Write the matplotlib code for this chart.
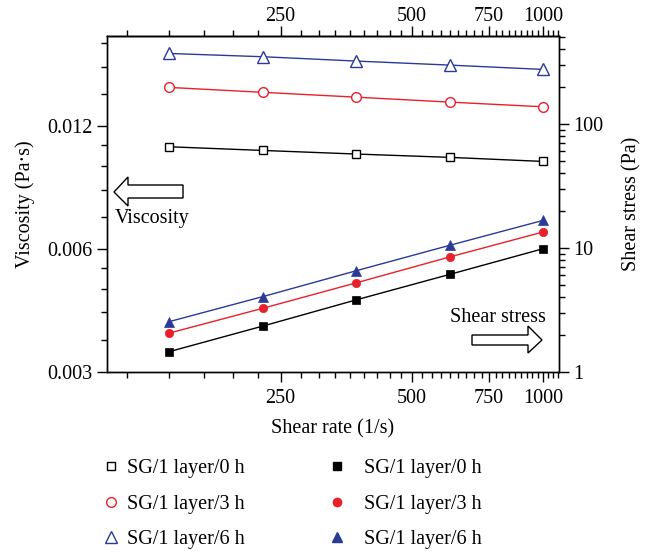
import numpy as np
import matplotlib
matplotlib.use("Agg")
import matplotlib.pyplot as plt
from matplotlib.patches import Polygon
from matplotlib.ticker import FixedLocator, NullFormatter, FixedFormatter

plt.rcParams['font.family'] = ['Liberation Serif', 'DejaVu Serif']

# data
shear_rate = [139, 228, 373, 610, 1000]
visc_0h = [0.0107, 0.01048, 0.01027, 0.01008, 0.00985]
visc_3h = [0.01496, 0.01455, 0.01416, 0.01377, 0.01341]
visc_6h = [0.01812, 0.01779, 0.01736, 0.01697, 0.01656]
stress_0h = [1.46, 2.35, 3.82, 6.12, 9.87]
stress_3h = [2.06, 3.27, 5.24, 8.46, 13.47]
stress_6h = [2.55, 4.06, 6.56, 10.5, 16.7]
labels = ['SG/1 layer/0 h', 'SG/1 layer/3 h', 'SG/1 layer/6 h']
colors = ['black', '#e8202a', '#2b3a97']

x_ticks = [250, 500, 750, 1000]
visc_ticks = [0.003, 0.006, 0.012]
stress_ticks = [1, 10, 100]

W, H = 649, 554
fig = plt.figure(figsize=(W / 100, H / 100), dpi=100)
L, R, T, B = 107, 559, 36, 372
ax = fig.add_axes([L / W, 1 - B / H, (R - L) / W, (B - T) / H])
ax2 = ax.twinx()

fs = 14.5
markers = ['s', 'o', '^']
open_ms = [6, 7, 8]
fill_ms = [5.5, 6, 7]

# viscosity, open markers, left axis
for v, c, m, ms in zip([visc_0h, visc_3h, visc_6h], colors, markers, open_ms):
    ax.plot(shear_rate, v, color=c, lw=1, marker=m, ms=ms, mfc='white', mec=c, mew=1)
# shear stress, filled markers, right axis
for s, c, m, ms in zip([stress_0h, stress_3h, stress_6h], colors, markers, fill_ms):
    ax2.plot(shear_rate, s, color=c, lw=1, marker=m, ms=ms, mfc=c, mec=c, mew=0.5)

ax.set_xscale('log')
ax.set_yscale('log')
ax2.set_yscale('log')
ax.set_xlim(100, 1087)
ax.set_ylim(0.003, 0.02)
ax2.set_ylim(1, 512)

# x ticks (origin style: linear minor ticks on a log axis)
xminor = []
for a in [0] + x_ticks:
    xminor += list(a + 250 / 9 * np.arange(1, 9))
xminor = [t for t in xminor if 100 <= t <= 1087]
top = ax.secondary_xaxis('top')
for a in (ax, top):
    a.xaxis.set_major_locator(FixedLocator(x_ticks))
    a.xaxis.set_major_formatter(FixedFormatter([str(t) for t in x_ticks]))
    a.xaxis.set_minor_locator(FixedLocator(xminor))
    a.xaxis.set_minor_formatter(NullFormatter())

ax.yaxis.set_major_locator(FixedLocator(visc_ticks))
ax.yaxis.set_major_formatter(FixedFormatter(['0.003', '0.006', '0.012']))
yminor = []
for a in visc_ticks:
    yminor += list(a + a * 0.2 * np.arange(1, 5))
ax.yaxis.set_minor_locator(FixedLocator(yminor))
ax.yaxis.set_minor_formatter(NullFormatter())

ax2.yaxis.set_major_locator(FixedLocator(stress_ticks))
ax2.yaxis.set_major_formatter(FixedFormatter(['1', '10', '100']))
ax2.yaxis.set_minor_locator(FixedLocator([d * k for d in [1, 10, 100] for k in range(2, 10)]))
ax2.yaxis.set_minor_formatter(NullFormatter())

ax.tick_params(axis='x', which='both', direction='out', labelsize=fs, pad=5)
top.tick_params(axis='x', which='both', direction='out', labelsize=fs, pad=0)
ax.tick_params(axis='y', which='both', direction='out', labelsize=fs)
ax2.tick_params(axis='y', which='both', direction='out', labelsize=fs)
for a in (ax, ax2, top):
    a.tick_params(which='major', length=7, width=1)
    a.tick_params(which='minor', length=4, width=1)
    for sp in a.spines.values():
        sp.set_linewidth(1)

ax.set_xlabel('Shear rate (1/s)', fontsize=fs, labelpad=8)
ax.set_ylabel('Viscosity (Pa·s)', fontsize=fs, labelpad=9)
ax2.set_ylabel('Shear stress (Pa)', fontsize=fs, labelpad=13)


def px(x, y):
    return ((x - L) / (R - L), (B - y) / (B - T))


# hollow arrows
left_arrow = [(114, 192), (128, 177), (128, 185), (183, 185), (183, 198), (128, 198), (128, 206)]
right_arrow = [(542, 340), (528, 326), (528, 335), (472, 335), (472, 345), (528, 345), (528, 353)]
for pts in (left_arrow, right_arrow):
    ax.add_patch(Polygon([px(*p) for p in pts], closed=True, transform=ax.transAxes,
                         facecolor='white', edgecolor='black', lw=1, zorder=5))
ax.text(*px(152, 218), 'Viscosity', transform=ax.transAxes, ha='center', va='center', fontsize=fs)
ax.text(*px(498, 317), 'Shear stress', transform=ax.transAxes, ha='center', va='center', fontsize=fs)

# legend below the plot: open markers left column, filled markers right column
open_h = [plt.Line2D([], [], ls='none', marker=m, ms=ms, mfc='white', mec=c)
          for c, m, ms in zip(colors, markers, open_ms)]
fill_h = [plt.Line2D([], [], ls='none', marker=m, ms=ms, mfc=c, mec=c)
          for c, m, ms in zip(colors, markers, fill_ms)]
for hs, x0, pad in [(open_h, 103, 0.4), (fill_h, 329, 0.95)]:
    fig.legend(hs, labels, frameon=False, fontsize=fs, loc='center left',
               bbox_to_anchor=(x0 / W, 1 - 504 / H), borderpad=0, borderaxespad=0,
               handlelength=0.8, handletextpad=pad, labelspacing=0.82)

fig.savefig('out.png', dpi=100)
